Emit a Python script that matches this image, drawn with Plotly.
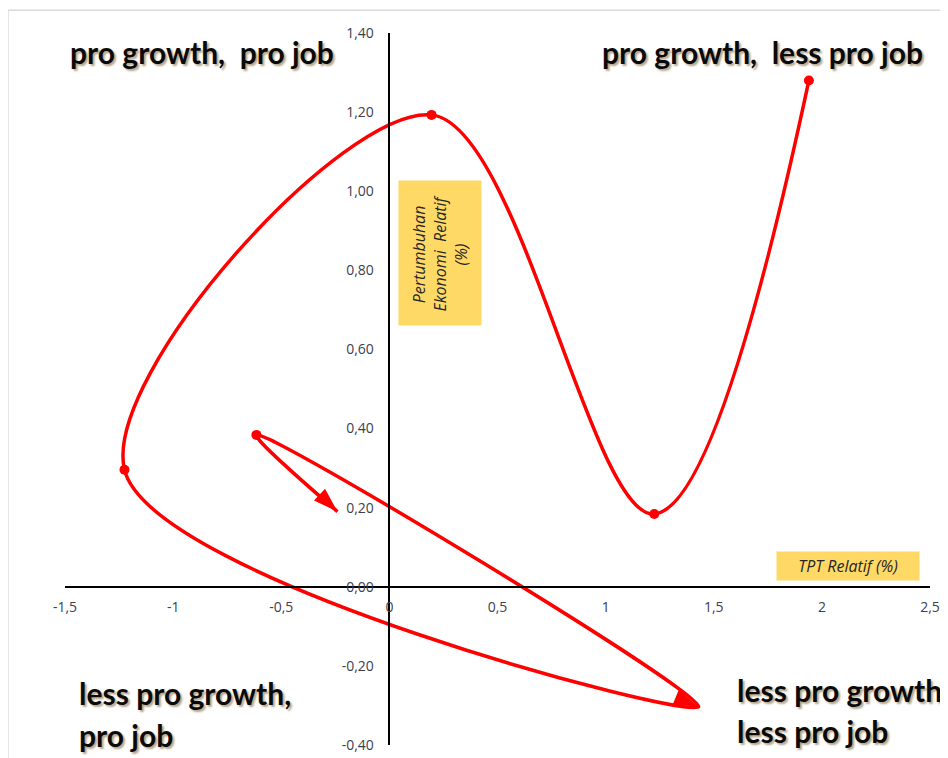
import plotly.graph_objects as go

# TPT relatif (x) vs pertumbuhan ekonomi relatif (y), in path order
tpt_relatif = [1.94, 1.225, 0.195, -1.225, 1.43, -0.615, -0.24]
pertumbuhan_relatif = [1.28, 0.184, 1.193, 0.296, -0.303, 0.384, 0.19]
point_symbols = ["circle", "circle", "circle", "circle", "arrow", "circle", "arrow"]
point_sizes = [10, 10, 10, 10, 26, 10, 26]

x_ticks = [-1.5, -1, -0.5, 0, 0.5, 1, 1.5, 2, 2.5]
x_tick_labels = ["-1,5", "-1", "-0,5", "0", "0,5", "1", "1,5", "2", "2,5"]
y_ticks = [-0.4, -0.2, 0, 0.2, 0.4, 0.6, 0.8, 1.0, 1.2, 1.4]
y_tick_labels = ["-0,40", "-0,20", "0,00", "0,20", "0,40", "0,60", "0,80", "1,00", "1,20", "1,40"]

x_range = [-1.5, 2.5]
y_range = [-0.4, 1.4]

RED = "#FF0000"
TICK_FONT = dict(family="Open Sans", size=14, color="#3c4050")
QUAD_FONT = dict(family="Lato", size=30, color="#0a0a0a", weight="bold",
                 shadow="2px 2px 2px rgba(120,90,40,0.55)")
TITLE_FONT = dict(family="Open Sans", size=16, style="italic", color="#262626")

fig = go.Figure()

fig.add_trace(go.Scatter(
    x=tpt_relatif,
    y=pertumbuhan_relatif,
    mode="lines+markers",
    line=dict(color=RED, width=3.5, shape="spline", smoothing=1.0),
    marker=dict(color=RED, size=point_sizes, symbol=point_symbols, opacity=1,
                angleref="previous", line=dict(width=0)),
    showlegend=False,
    hoverinfo="x+y",
))
# start point dot (angleref=previous hides the first marker)
fig.add_trace(go.Scatter(
    x=tpt_relatif[:1], y=pertumbuhan_relatif[:1], mode="markers",
    marker=dict(color=RED, size=10, opacity=1), showlegend=False, hoverinfo="x+y",
))

# axes cross at the origin
x_pos = -x_range[0] / (x_range[1] - x_range[0])
y_pos = -y_range[0] / (y_range[1] - y_range[0])

# page body adds 8px offset, so the figure is a bit smaller than the window
fig.update_layout(
    width=940, height=750,
    margin=dict(l=57, r=18, t=25, b=13, autoexpand=False),
    paper_bgcolor="white",
    plot_bgcolor="white",
    xaxis=dict(
        range=x_range, tickvals=x_ticks, ticktext=x_tick_labels,
        showgrid=False, zeroline=False, showline=True, linecolor="black", linewidth=1.5,
        anchor="free", position=y_pos, ticks="", tickfont=TICK_FONT, ticklabelstandoff=8,
    ),
    yaxis=dict(
        range=y_range, tickvals=y_ticks, ticktext=y_tick_labels,
        showgrid=False, zeroline=False, showline=True, linecolor="black", linewidth=1.5,
        anchor="free", position=x_pos, ticks="", tickfont=TICK_FONT, ticklabelstandoff=12,
    ),
)

# quadrant captions
quad_labels = [
    ("pro growth,  pro job", 0.003, 0.973, "left"),
    ("pro growth,  less pro job", 0.994, 0.973, "right"),
    ("less pro growth,", 0.014, 0.073, "left"),
    ("pro job", 0.014, 0.014, "left"),
    ("less pro growth", 0.775, 0.077, "left"),
    ("less pro job", 0.775, 0.020, "left"),
]
for text, px, py, anchor in quad_labels:
    fig.add_annotation(text=text, x=px, y=py, xref="paper", yref="paper",
                       xanchor=anchor, yanchor="middle", showarrow=False, font=QUAD_FONT)

# axis titles in yellow boxes
fig.add_annotation(text="TPT Relatif (%)", x=0.905, y=0.251, xref="paper", yref="paper",
                   xanchor="center", yanchor="middle",
                   showarrow=False, bgcolor="#FFD966", width=140, height=26, font=TITLE_FONT)
fig.add_annotation(text="Pertumbuhan<br>Ekonomi  Relatif<br>(%)", x=0.4335, y=0.691,
                   xref="paper", yref="paper", xanchor="center", yanchor="middle",
                   textangle=-90, showarrow=False,
                   bgcolor="#FFD966", width=142, height=80, font=TITLE_FONT)

# light chart border
fig.add_shape(type="rect", xref="paper", yref="paper", x0=-0.066, x1=1.05, y0=-0.05, y1=1.032,
              line=dict(color="#D9D9D9", width=1.5), fillcolor="rgba(0,0,0,0)", layer="below")

fig.write_html("out.html")
